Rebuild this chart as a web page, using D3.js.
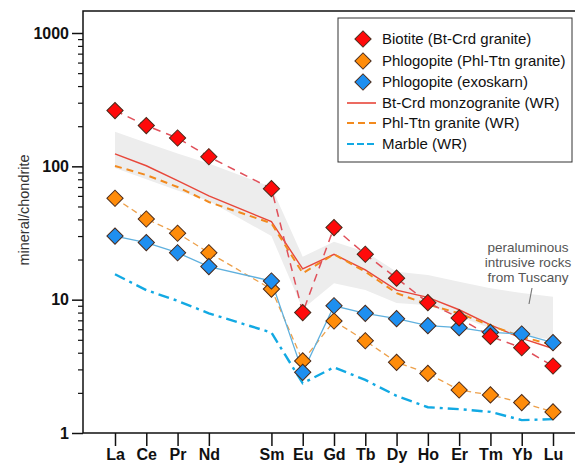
<!DOCTYPE html>
<html>
<head>
<meta charset="utf-8">
<script src="https://cdn.jsdelivr.net/npm/d3@7"></script>
<style>
  html, body { margin: 0; padding: 0; background: #fff; }
  svg { display: block; font-family: "Liberation Sans", Arial, Helvetica, sans-serif; }
</style>
</head>
<body>
<svg id="chart" width="575" height="466"></svg>
<script>
// Rare earth elements (Pm is absent from the analyses) and their atomic numbers
const elements = ["La", "Ce", "Pr", "Nd", "Sm", "Eu", "Gd", "Tb", "Dy", "Ho", "Er", "Tm", "Yb", "Lu"];
const atomicNumbers = [57, 58, 59, 60, 62, 63, 64, 65, 66, 67, 68, 69, 70, 71];

// Chondrite-normalised mineral analyses
const biotiteBtCrd = [262, 202, 163, 118, 68, 8.0, 34.7, 21.9, 14.5, 9.5, 7.3, 5.3, 4.36, 3.18];
const phlogopitePhlTtn = [57.6, 40.3, 31.5, 22.5, 12.0, 3.47, 6.92, 4.92, 3.39, 2.80, 2.10, 1.93, 1.69, 1.44];
const phlogopiteSkarn = [30.0, 26.8, 22.5, 17.7, 13.8, 2.85, 9.0, 7.9, 7.2, 6.38, 6.17, 5.69, 5.53, 4.76];

// Whole-rock patterns
const btCrdWR = [124, 101, 78, 60, 38.5, 17.0, 21.9, 16.7, 11.8, 10.4, 8.4, 6.46, 5.13, 4.3];
const phlTtnWR = [100.7, 86, 70, 54, 37.4, 15.8, 21.9, 16.2, 11.2, 9.2, 7.9, 6.4, 5.27, 4.57];
const marbleWR = [15.5, 11.8, 9.8, 7.9, 5.66, 2.36, 3.11, 2.50, 1.90, 1.56, 1.51, 1.44, 1.25, 1.27];

// Field of peraluminous intrusive rocks from Tuscany
const tuscanyUpper = [182, 150, 125, 105, 70, 21, 27.2, 22.9, 16.2, 15.3, 13.6, 12.2, 11.2, 10.5];
const tuscanyLower = [97, 80, 66, 55, 30, 8.5, 13.3, 11.8, 9.45, 9.1, 7.46, 6.1, 5.4, 5.0];

const yTickValues = [1, 10, 100, 1000];

const svg = d3.select("#chart");

const x = d3.scaleLinear().domain([57, 71]).range([115, 553]);
const y = d3.scaleLog().domain([1, 1000]).range([433, 33]);

const plotLeft = 83, plotRight = 600, plotTop = 11, plotBottom = 433;

// Tuscany field
const band = d3.area()
  .x((d, i) => x(atomicNumbers[i]))
  .y0((d, i) => y(tuscanyLower[i]))
  .y1((d, i) => y(tuscanyUpper[i]));
svg.append("path")
  .datum(tuscanyUpper)
  .attr("d", band)
  .attr("fill", "#ededed")
  .attr("stroke", "none");

const line = d3.line().x((d, i) => x(atomicNumbers[i])).y(d => y(d));

// Whole-rock lines
svg.append("path").datum(marbleWR).attr("d", line)
  .attr("fill", "none").attr("stroke", "#12a9e3").attr("stroke-width", 2.4)
  .attr("stroke-dasharray", "11,5,3,5");
svg.append("path").datum(btCrdWR).attr("d", line)
  .attr("fill", "none").attr("stroke", "#e8473a").attr("stroke-width", 1.4);
svg.append("path").datum(phlTtnWR).attr("d", line)
  .attr("fill", "none").attr("stroke", "#f28a1e").attr("stroke-width", 2)
  .attr("stroke-dasharray", "7,5");

// Mineral connecting lines
svg.append("path").datum(phlogopitePhlTtn).attr("d", line)
  .attr("fill", "none").attr("stroke", "#eda04a").attr("stroke-width", 1.3)
  .attr("stroke-dasharray", "6,4");
svg.append("path").datum(phlogopiteSkarn).attr("d", line)
  .attr("fill", "none").attr("stroke", "#5fb0de").attr("stroke-width", 1.3);
svg.append("path").datum(biotiteBtCrd).attr("d", line)
  .attr("fill", "none").attr("stroke", "#e0505a").attr("stroke-width", 1.5)
  .attr("stroke-dasharray", "8,6");

// Diamond markers
const diamond = d3.symbol().type(d3.symbolSquare).size(132);
function markers(values, fill) {
  svg.append("g").selectAll("path").data(values).join("path")
    .attr("d", diamond)
    .attr("transform", (d, i) => `translate(${x(atomicNumbers[i])},${y(d)}) rotate(45)`)
    .attr("fill", fill)
    .attr("stroke", "#4a2a1a")
    .attr("stroke-width", 1);
}
markers(phlogopitePhlTtn, "#ff8c0a");
markers(phlogopiteSkarn, "#1e8ff0");
markers(biotiteBtCrd, "#ff0a0a");

// Frame
svg.append("path")
  .attr("d", `M${plotRight},${plotTop}H${plotLeft}V${plotBottom}H${plotRight}`)
  .attr("fill", "none").attr("stroke", "#111").attr("stroke-width", 1.5);

// Y axis
const yMinor = [];
for (let k = 0; k < 3; k++) for (let m = 2; m <= 9; m++) yMinor.push(m * Math.pow(10, k));
const yAxis = svg.append("g").attr("transform", `translate(${plotLeft},0)`)
  .call(d3.axisLeft(y).tickValues(yTickValues).tickFormat(d3.format("d")).tickSize(11).tickPadding(3));
yAxis.select(".domain").remove();
yAxis.selectAll(".tick line").attr("stroke", "#111").attr("stroke-width", 1.5);
yAxis.selectAll(".tick text")
  .attr("font-size", 16).attr("font-weight", "bold").attr("fill", "#111")
  .attr("font-family", "Liberation Sans, Arial, sans-serif");
const yAxisMinor = svg.append("g").attr("transform", `translate(${plotLeft},0)`)
  .call(d3.axisLeft(y).tickValues(yMinor).tickFormat("").tickSize(5));
yAxisMinor.select(".domain").remove();
yAxisMinor.selectAll(".tick line").attr("stroke", "#111").attr("stroke-width", 1.2);

// X axis
const xAxis = svg.append("g").attr("transform", `translate(0,${plotBottom})`)
  .call(d3.axisBottom(x).tickValues(atomicNumbers)
    .tickFormat((d, i) => elements[i]).tickSize(13).tickPadding(3));
xAxis.select(".domain").remove();
xAxis.selectAll(".tick line").attr("stroke", "#111").attr("stroke-width", 1.5);
xAxis.selectAll(".tick text")
  .attr("font-size", 16).attr("font-weight", "bold").attr("fill", "#111")
  .attr("font-family", "Liberation Sans, Arial, sans-serif");

// Y axis title
svg.append("text")
  .attr("transform", "translate(29,210) rotate(-90)")
  .attr("text-anchor", "middle")
  .attr("font-size", 14.5)
  .attr("fill", "#333")
  .text("mineral/chondrite");

// Annotation for the Tuscany field
const note = svg.append("text")
  .attr("text-anchor", "middle")
  .attr("font-size", 13.5)
  .attr("fill", "#555");
["peraluminous", "intrusive rocks", "from Tuscany"].forEach((t, i) => {
  note.append("tspan").attr("x", 528).attr("y", 252 + i * 15).text(t);
});
svg.append("line")
  .attr("x1", 532).attr("y1", 288).attr("x2", 529).attr("y2", 304)
  .attr("stroke", "#777").attr("stroke-width", 1.2);

// Legend
const legend = svg.append("g");
legend.append("rect")
  .attr("x", 338).attr("y", 18).attr("width", 234).attr("height", 144)
  .attr("fill", "#fff").attr("stroke", "#333").attr("stroke-width", 1);

const legendItems = [
  { label: "Biotite (Bt-Crd granite)", kind: "marker", color: "#ff0a0a" },
  { label: "Phlogopite (Phl-Ttn granite)", kind: "marker", color: "#ff8c0a" },
  { label: "Phlogopite (exoskarn)", kind: "marker", color: "#1e8ff0" },
  { label: "Bt-Crd monzogranite (WR)", kind: "line", color: "#e8473a", dash: null, width: 1.6 },
  { label: "Phl-Ttn granite (WR)", kind: "line", color: "#f28a1e", dash: "7,4", width: 2 },
  { label: "Marble (WR)", kind: "line", color: "#12a9e3", dash: "7,3", width: 2.2 }
];
const rowY = [39, 61, 82, 103, 123, 144];
legendItems.forEach((it, i) => {
  const g = legend.append("g").attr("transform", `translate(0,${rowY[i]})`);
  if (it.kind === "marker") {
    g.append("path").attr("d", diamond)
      .attr("transform", "translate(363,0) rotate(45)")
      .attr("fill", it.color).attr("stroke", "#4a2a1a").attr("stroke-width", 1);
  } else {
    g.append("line").attr("x1", 347).attr("x2", 376).attr("y1", 0).attr("y2", 0)
      .attr("stroke", it.color).attr("stroke-width", it.width)
      .attr("stroke-dasharray", it.dash);
  }
  g.append("text").attr("x", 382).attr("y", 5)
    .attr("font-size", 15).attr("fill", "#111").text(it.label);
});
</script>
</body>
</html>
